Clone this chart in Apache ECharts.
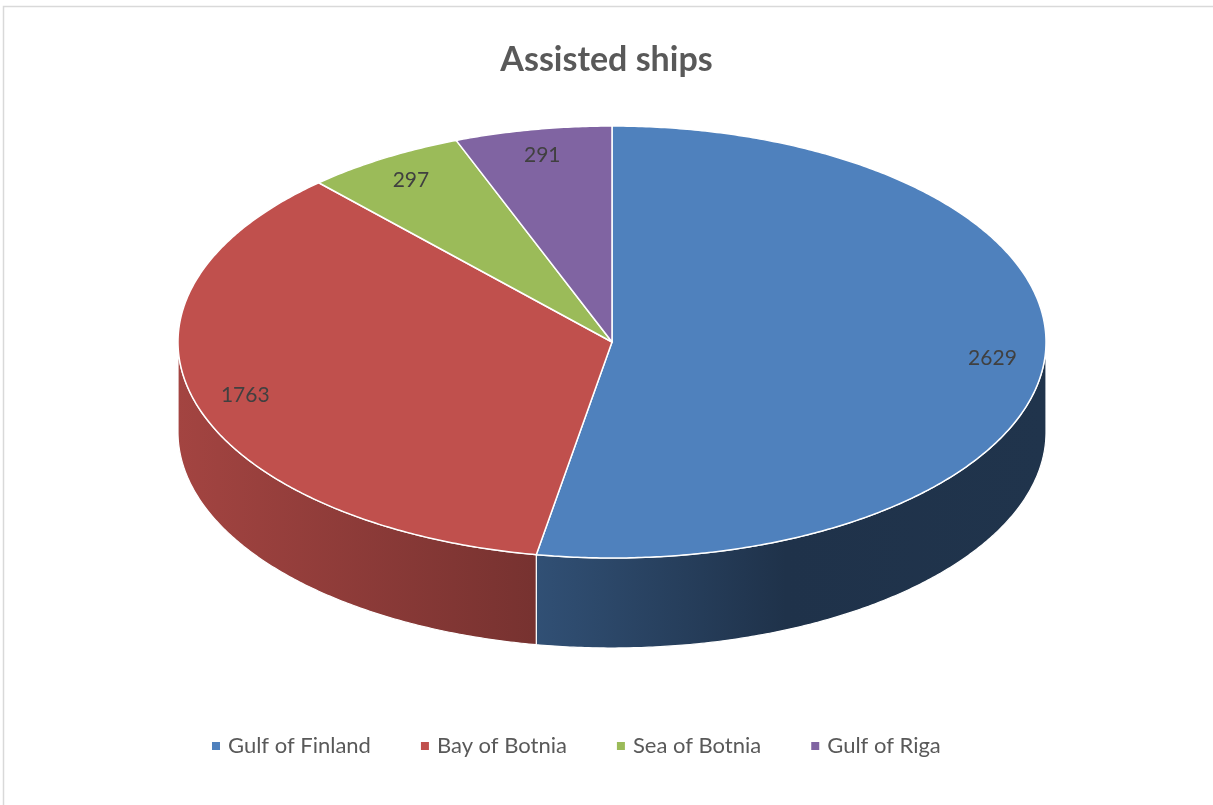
<!DOCTYPE html>
<html>
<head>
<meta charset="utf-8">
<script src="https://cdn.jsdelivr.net/npm/echarts@6/dist/echarts.min.js"></script>
<style>
html,body{margin:0;padding:0;background:#fff;}
#chart{width:1213px;height:805px;}
</style>
</head>
<body>
<div id="chart"></div>
<script>
// ---- data ----
const categories = ['Gulf of Finland', 'Bay of Botnia', 'Sea of Botnia', 'Gulf of Riga'];
const values = [2629, 1763, 297, 291];
const colors = ['#4f81bd', '#c0504d', '#9bbb59', '#8064a2'];
const titleText = 'Assisted ships';

// ---- layout (pixels) ----
const CX = 612, CY = 342, RX = 434, RY = 216, DEPTH = 90, LABEL_R = 0.88;
const FONT = 'Lato, "Open Sans", sans-serif';

const total = values.reduce((a, b) => a + b, 0);

function shade(hex, f) {
  const n = parseInt(hex.slice(1), 16);
  const r = Math.round(((n >> 16) & 255) * f);
  const g = Math.round(((n >> 8) & 255) * f);
  const b = Math.round((n & 255) * f);
  return 'rgb(' + r + ',' + g + ',' + b + ')';
}
const shadeStops = [[0, 0.85], [0.41, 0.62], [0.7, 0.39], [1, 0.40]];

function pt(theta, dy) {
  return [CX + RX * Math.sin(theta), CY - RY * Math.cos(theta) + dy];
}
function arc(a0, a1, dy) {
  const pts = [];
  const n = Math.max(2, Math.ceil((a1 - a0) / (Math.PI / 360)));
  for (let k = 0; k <= n; k++) pts.push(pt(a0 + (a1 - a0) * k / n, dy));
  return pts;
}

function makeRender(idx) {
  return function (params, api) {
    const v = api.value(0);
    let start = 0;
    for (let j = 0; j < idx; j++) start += values[j];
    const a0 = start / total * Math.PI * 2;
    const a1 = (start + v) / total * Math.PI * 2;
    const color = colors[idx];
    const children = [];
    // visible side (front half)
    const s0 = Math.max(a0, Math.PI / 2), s1 = Math.min(a1, Math.PI * 1.5);
    if (s1 > s0) {
      const topArc = arc(s0, s1, 0);
      const botArc = arc(s0, s1, DEPTH).reverse();
      children.push({
        type: 'polygon', z2: 1,
        shape: { points: topArc.concat(botArc) },
        style: {
          fill: {
            type: 'linear', x: CX - RX, y: 0, x2: CX + RX, y2: 0, global: true,
            colorStops: shadeStops.map(s => ({ offset: s[0], color: shade(color, s[1]) }))
          },
          stroke: '#ffffff', lineWidth: 1.2
        }
      });
    }
    // top face
    children.push({
      type: 'polygon', z2: 5,
      shape: { points: [[CX, CY]].concat(arc(a0, a1, 0)) },
      style: { fill: color, stroke: '#ffffff', lineWidth: 1.5, lineJoin: 'round' }
    });
    // label
    const mid = (a0 + a1) / 2;
    const lp = [CX + RX * LABEL_R * Math.sin(mid), CY - RY * LABEL_R * Math.cos(mid)];
    children.push({
      type: 'text', z2: 10,
      x: lp[0], y: lp[1],
      style: {
        text: String(v), fill: '#404040', fontSize: 21, fontFamily: FONT,
        align: 'center', verticalAlign: 'middle'
      }
    });
    return { type: 'group', children: children };
  };
}

const series = categories.map((name, i) => ({
  type: 'custom',
  name: name,
  coordinateSystem: 'none',
  silent: true,
  itemStyle: { color: colors[i] },
  renderItem: makeRender(i),
  data: [[values[i]]]
}));

const chart = echarts.init(document.getElementById('chart'), null, { renderer: 'canvas' });
chart.setOption({
  animation: false,
  backgroundColor: '#ffffff',
  title: {
    text: titleText, left: 'center', top: 38,
    textStyle: { fontSize: 34, fontWeight: 'bold', color: '#595959', fontFamily: FONT }
  },
  legend: {
    data: categories, bottom: 43, left: 207,
    icon: 'rect', itemWidth: 8, itemHeight: 8, itemGap: 50,
    textStyle: { fontSize: 22, color: '#595959', fontFamily: FONT, padding: [0, 0, 0, 3] }
  },
  graphic: [{
    type: 'rect', left: 1, top: 4, silent: true,
    shape: { width: 1240, height: 900 },
    style: { fill: 'none', stroke: '#d9d9d9', lineWidth: 1.5 }
  }],
  series: series
});
</script>
</body>
</html>
